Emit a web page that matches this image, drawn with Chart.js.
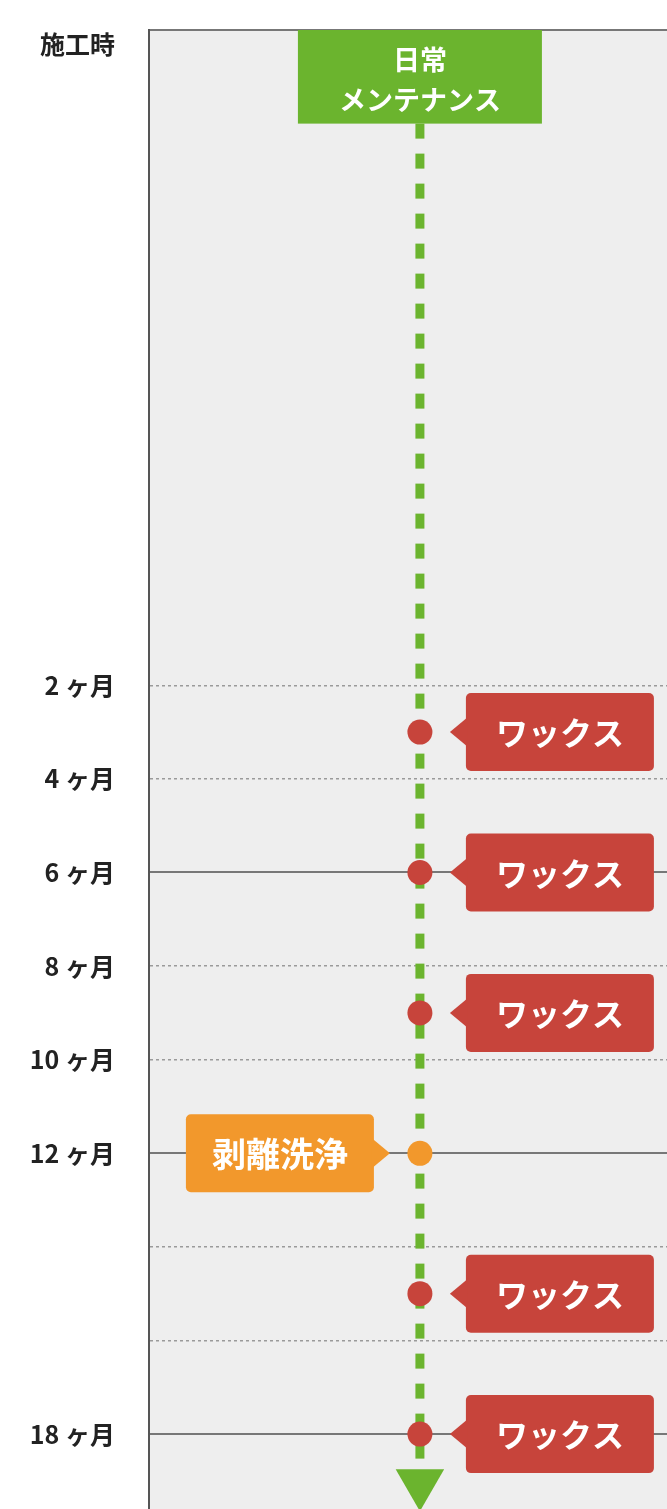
<!DOCTYPE html>
<html lang="ja">
<head>
<meta charset="utf-8">
<title>メンテナンススケジュール</title>
<script src="https://cdn.jsdelivr.net/npm/chart.js@4.4.1/dist/chart.umd.min.js"></script>
<style>
  html, body { margin: 0; padding: 0; background: #fff; }
  #wrap { width: 667px; height: 1509px; position: relative; }
</style>
</head>
<body>
<div id="wrap"><canvas id="schedule"></canvas></div>
<script>
// 目盛り（月）
const monthTicks = [2, 4, 6, 8, 10, 12, 14, 16, 18];
const monthLabels = ["2 ヶ月", "4 ヶ月", "6 ヶ月", "8 ヶ月", "10 ヶ月", "12 ヶ月", "", "", "18 ヶ月"];
const solidMonths = [6, 12, 18];

// 施工時は軸の上端（省略区間の上）
const startLabel = "施工時";
const startPos = -11.7;

// 日常メンテナンスの線（上端・下端・矢印）
const dailyLabel = ["日常", "メンテナンス"];
const dailyStart = -10;
const dailyEnd = 18.6;
const dailyArrow = 19.05;

// 作業
const waxMonths = [3, 6, 9, 15, 18];
const waxLabel = "ワックス";
const stripMonths = [12];
const stripLabel = "剥離洗浄";

// 線の横位置（0〜1）
const timelineX = 0.523;

const GREEN = "#6bb42e";
const RED = "#c7443b";
const ORANGE = "#f2982c";
const FONT = "'Noto Sans CJK JP', 'Noto Sans', sans-serif";

// グレーの背景
const plotBackground = {
  id: "plotBackground",
  beforeDraw(chart) {
    const { ctx, chartArea: a } = chart;
    ctx.save();
    ctx.fillStyle = "#eeeeee";
    ctx.fillRect(a.left, a.top, a.right - a.left, a.bottom - a.top);
    ctx.restore();
  }
};

// 吹き出しを描く
function drawCallout(ctx, el, side, color, text, size) {
  const boxW = 188, boxH = 78, gap = 46, tip = 30, half = 15;
  const top = el.y - boxH / 2;
  let left, baseX, tipX;
  if (side === "right") {
    left = el.x + gap; baseX = left + 2; tipX = el.x + tip;
  } else {
    left = el.x - gap - boxW; baseX = el.x - gap - 2; tipX = el.x - tip;
  }
  ctx.fillStyle = color;
  ctx.beginPath();
  ctx.roundRect(left, top, boxW, boxH, 5);
  ctx.fill();
  ctx.beginPath();
  ctx.moveTo(baseX, el.y - half);
  ctx.lineTo(tipX, el.y);
  ctx.lineTo(baseX, el.y + half);
  ctx.closePath();
  ctx.fill();
  ctx.fillStyle = "#fff";
  ctx.font = "bold " + size + "px " + FONT;
  ctx.textAlign = "center";
  ctx.textBaseline = "middle";
  ctx.fillText(text, left + boxW / 2, el.y + 1);
}

const callouts = {
  id: "callouts",
  afterDatasetsDraw(chart) {
    const ctx = chart.ctx;
    ctx.save();
    chart.getDatasetMeta(0).data.forEach((el) => drawCallout(ctx, el, "right", RED, waxLabel, 32));
    chart.getDatasetMeta(1).data.forEach((el) => drawCallout(ctx, el, "left", ORANGE, stripLabel, 34));
    // 日常メンテナンスの見出し
    const first = chart.getDatasetMeta(2).data[0];
    const top = chart.chartArea.top;
    ctx.fillStyle = GREEN;
    ctx.fillRect(first.x - 122, top, 244, first.y - top);
    ctx.fillStyle = "#fff";
    ctx.font = "bold 27px " + FONT;
    ctx.textAlign = "center";
    ctx.textBaseline = "middle";
    ctx.fillText(dailyLabel[0], first.x, top + 30);
    ctx.fillText(dailyLabel[1], first.x, top + 70);
    ctx.restore();
  }
};

new Chart(document.getElementById("schedule"), {
  type: "scatter",
  data: {
    datasets: [
      {
        label: waxLabel,
        data: waxMonths.map((m) => ({ x: timelineX, y: m })),
        pointRadius: 12.5,
        pointBackgroundColor: RED,
        pointBorderWidth: 0,
        order: 1
      },
      {
        label: stripLabel,
        data: stripMonths.map((m) => ({ x: timelineX, y: m })),
        pointRadius: 12.5,
        pointBackgroundColor: ORANGE,
        pointBorderWidth: 0,
        order: 1
      },
      {
        label: dailyLabel.join(""),
        data: [{ x: timelineX, y: dailyStart }, { x: timelineX, y: dailyEnd }],
        showLine: true,
        borderColor: GREEN,
        borderWidth: 9,
        borderDash: [15, 15],
        pointRadius: 0,
        order: 3
      },
      {
        label: "arrow",
        data: [{ x: timelineX, y: dailyArrow }],
        pointStyle: "triangle",
        pointRotation: 180,
        pointRadius: 28,
        pointBackgroundColor: GREEN,
        pointBorderWidth: 0,
        order: 2
      }
    ]
  },
  options: {
    responsive: true,
    maintainAspectRatio: false,
    animation: false,
    events: [],
    layout: { padding: 0, autoPadding: false },
    plugins: { legend: { display: false }, tooltip: { enabled: false } },
    scales: {
      x: {
        type: "linear",
        position: "top",
        min: 0,
        max: 1,
        ticks: { display: false },
        grid: { display: false },
        border: { color: "#777", width: 2 },
        afterFit: (s) => {
          s.height = 30;
          s.paddingLeft = 0;
          s.paddingRight = 0;
        }
      },
      y: {
        type: "linear",
        reverse: true,
        min: -12,
        max: 19.6,
        afterBuildTicks: (s) => {
          s.ticks = [startPos, ...monthTicks].map((v) => ({ value: v }));
        },
        ticks: {
          autoSkip: false,
          padding: 34,
          color: "#222",
          font: { family: FONT, size: 25, weight: "bold" },
          callback: (v) => (v === startPos ? startLabel : monthLabels[monthTicks.indexOf(v)])
        },
        grid: {
          drawTicks: false,
          color: (c) => {
            if (!c.tick || c.tick.value === startPos) return "rgba(0,0,0,0)";
            return solidMonths.includes(c.tick.value) ? "#777" : "#9a9a9a";
          },
          lineWidth: (c) => (c.tick && solidMonths.includes(c.tick.value) ? 2 : 1.5)
        },
        border: {
          color: "#555",
          width: 2,
          dash: (c) => (c.tick && !solidMonths.includes(c.tick.value) ? [3, 3] : [])
        },
        afterFit: (s) => {
          s.width = 149;
          s.paddingTop = 0;
          s.paddingBottom = 0;
        }
      }
    }
  },
  plugins: [plotBackground, callouts]
});
</script>
</body>
</html>
